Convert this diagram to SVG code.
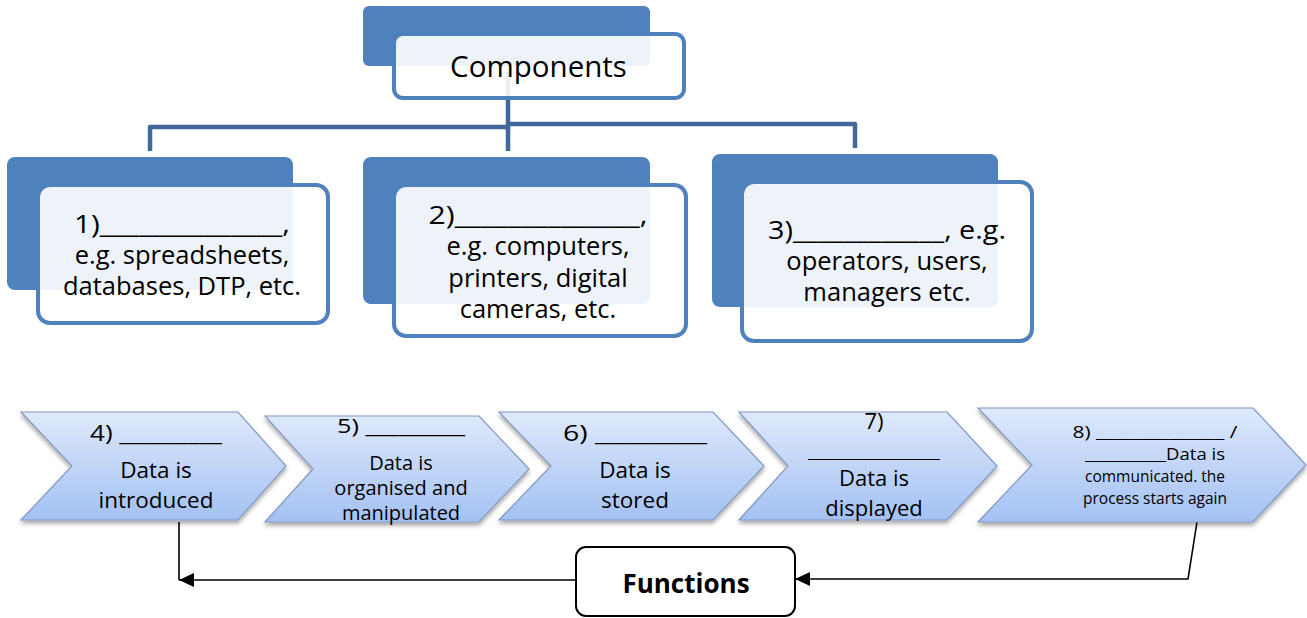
<svg xmlns="http://www.w3.org/2000/svg" width="1307" height="618" viewBox="0 0 1307 618">
  <defs>
    <linearGradient id="chevFill" x1="0" y1="0" x2="0" y2="1">
      <stop offset="0" stop-color="#dfe9fb"/>
      <stop offset="1" stop-color="#a3c1f3"/>
    </linearGradient>
    <filter id="shadow" x="-5%" y="-10%" width="110%" height="130%">
      <feDropShadow dx="0" dy="3" stdDeviation="2" flood-color="#000" flood-opacity="0.35"/>
    </filter>
    <marker id="arrow" markerUnits="userSpaceOnUse" markerWidth="15" markerHeight="14" refX="15" refY="7" orient="auto">
      <path d="M0,0 L15,7 L0,14 Z" fill="#000"/>
    </marker>
    <style>
      .back { fill: #4f81bd; }
      .front { fill: #ffffff; fill-opacity: 0.9; stroke: #4f81bd; stroke-width: 4; }
      .tree { fill: none; stroke: #40699a; stroke-width: 4.5; stroke-linejoin: round; }
      .chev { fill: url(#chevFill); stroke: #8399c0; stroke-width: 1.2; filter: url(#shadow); }
      .flow { fill: none; stroke: #000; stroke-width: 1.6; }
      .box { fill: #fff; stroke: #000; stroke-width: 2; }
      text { font-family: 'Open Sans', 'Liberation Sans', sans-serif; fill: #000; text-anchor: middle; }
      .title { font-size: 29.5px; }
      .n { font-size: 25.5px; }
      .c { font-size: 22.5px; }
      .c2 { font-size: 20px; }
      .c4 { font-size: 22px; }
      .blank { font-size: 16px; }
      .c5 { font-size: 15.5px; }
      .fn { font-size: 26px; font-weight: bold; }
    </style>
  </defs>

  <!-- hierarchy connectors and process loop -->
  <g id="connectors">
    <path class="tree" d="M508,72 V151"/>
    <path class="tree" d="M508,127 H150 V151"/>
    <path class="tree" d="M508,124 H855 V148"/>
    <path class="flow" d="M179,522 V580"/>
    <path class="flow" d="M575,580 H179" marker-end="url(#arrow)"/>
    <path class="flow" d="M1197,522 L1188,579 H795" marker-end="url(#arrow)"/>
  </g>

  <g id="components">
    <rect class="back" x="363" y="6" width="287" height="60" rx="6"/>
    <rect class="front" x="394" y="34" width="290" height="64" rx="9"/>
    <text class="title" x="538.5" y="77">Components</text>
  </g>

  <g id="software">
    <rect class="back" x="7" y="157" width="286" height="133" rx="8"/>
    <rect class="front" x="38" y="185" width="290" height="138" rx="12"/>
    <text class="n" x="182" y="233" textLength="216" lengthAdjust="spacingAndGlyphs">1)______________,</text>
    <text class="n" x="182" y="264">e.g. spreadsheets,</text>
    <text class="n" x="182" y="295">databases, DTP, etc.</text>
  </g>

  <g id="hardware">
    <rect class="back" x="363" y="157" width="287" height="147" rx="8"/>
    <rect class="front" x="394" y="185" width="292" height="151" rx="12"/>
    <text class="n" x="538" y="224" textLength="219" lengthAdjust="spacingAndGlyphs">2)______________,</text>
    <text class="n" x="538" y="255">e.g. computers,</text>
    <text class="n" x="538" y="287">printers, digital</text>
    <text class="n" x="538" y="318">cameras, etc.</text>
  </g>

  <g id="people">
    <rect class="back" x="712" y="154" width="286" height="153" rx="8"/>
    <rect class="front" x="742" y="182" width="290" height="159" rx="12"/>
    <text class="n" x="887" y="239" textLength="238" lengthAdjust="spacingAndGlyphs">3)____________, e.g.</text>
    <text class="n" x="887" y="270">operators, users,</text>
    <text class="n" x="887" y="301">managers etc.</text>
  </g>

  <g id="step-input">
    <path class="chev" d="M21,412 H238 L286,466 L238,520 H21 L72,466 Z"/>
    <text class="c" x="156" y="441" textLength="132" lengthAdjust="spacingAndGlyphs">4) _________</text>
    <text class="c" x="156" y="478">Data is</text>
    <text class="c" x="156" y="508">introduced</text>
  </g>

  <g id="step-process">
    <path class="chev" d="M265,416 H479 L529,469 L479,522 H265 L313,469 Z"/>
    <text class="c2" x="401" y="433" textLength="128" lengthAdjust="spacingAndGlyphs">5) _________</text>
    <text class="c2" x="401" y="470">Data is</text>
    <text class="c2" x="401" y="495">organised and</text>
    <text class="c2" x="401" y="520">manipulated</text>
  </g>

  <g id="step-storage">
    <path class="chev" d="M499,412 H713 L764,466 L713,520 H499 L551,466 Z"/>
    <text class="c" x="635" y="441" textLength="144" lengthAdjust="spacingAndGlyphs">6) _________</text>
    <text class="c" x="635" y="478">Data is</text>
    <text class="c" x="635" y="508">stored</text>
  </g>

  <g id="step-output">
    <path class="chev" d="M739,412 H947 L997,466 L947,520 H739 L788,466 Z"/>
    <text class="c4" x="874" y="429">7)</text>
    <text class="blank" x="874" y="458" textLength="132" lengthAdjust="spacingAndGlyphs">__________</text>
    <text class="c4" x="874" y="486">Data is</text>
    <text class="c4" x="874" y="516">displayed</text>
  </g>

  <g id="step-communication">
    <path class="chev" d="M978,408 H1253 L1306,465 L1253,522 H978 L1032,465 Z"/>
    <text class="c5" x="1155" y="438" textLength="165" lengthAdjust="spacingAndGlyphs">8) ______________ /</text>
    <text class="c5" x="1155" y="460" textLength="140" lengthAdjust="spacingAndGlyphs">__________Data is</text>
    <text class="c5" x="1155" y="482">communicated. the</text>
    <text class="c5" x="1155" y="504">process starts again</text>
  </g>

  <g id="functions">
    <rect class="box" x="576" y="547" width="219" height="69" rx="10"/>
    <text class="fn" x="686" y="593">Functions</text>
  </g>
</svg>
